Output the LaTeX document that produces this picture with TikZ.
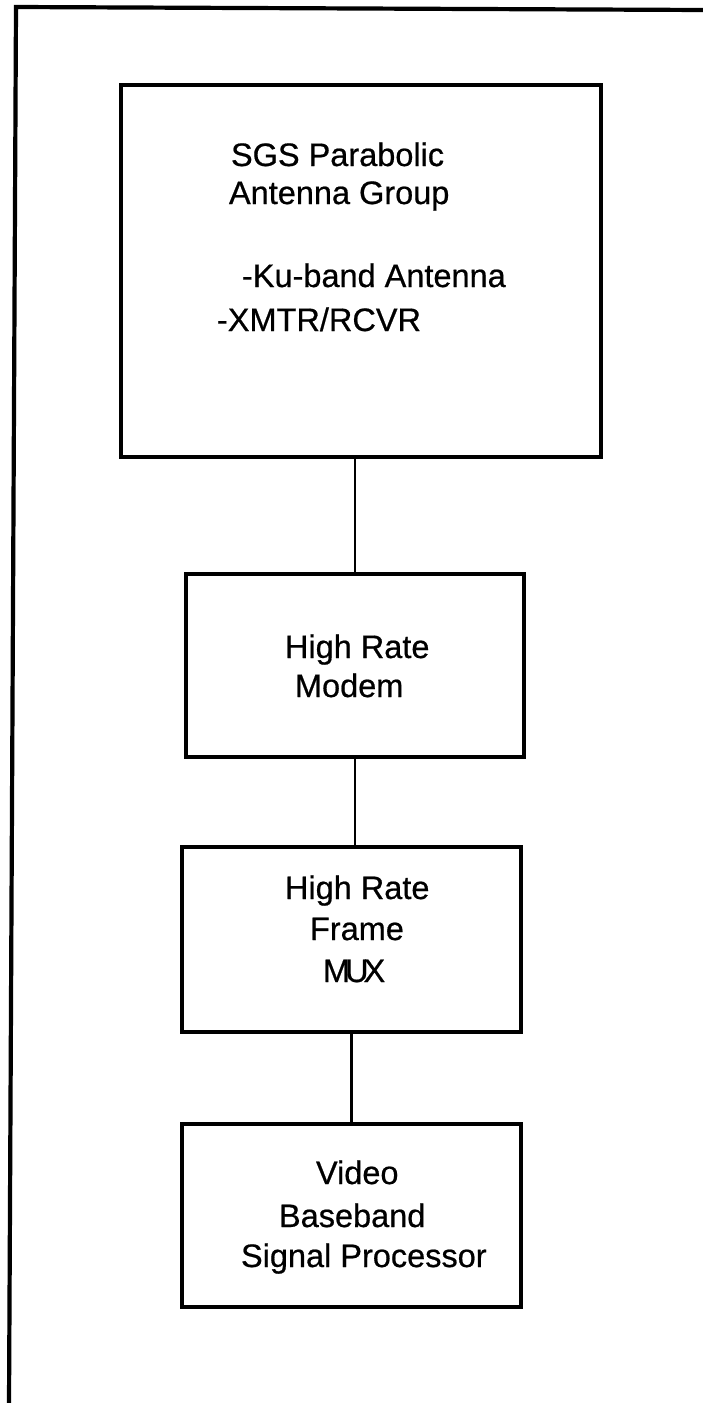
\documentclass[tikz,border=0pt]{standalone}
\usepackage{fontspec}
\setmainfont{Liberation Sans}
\newfontfamily\scanfont[FakeBold=0.6]{Liberation Sans}
\begin{document}
\begin{tikzpicture}[x=1pt,y=-1pt,
  blk/.style={draw=black, line width=3.6pt, rectangle, inner sep=0pt, outer sep=0pt},
  lnk/.style={draw=black, line width=2.3pt},
  frm/.style={draw=black, line width=4.2pt, line join=miter},
  lbl/.style={anchor=base west, inner sep=0pt, outer sep=0pt, font=\scanfont\fontsize{32.5}{39}\selectfont}]
\useasboundingbox (0,0) rectangle (703,1403);
% outer frame (only top and left edges visible)
\coordinate (fb) at (9,1405);
\coordinate (fc) at (16,7);
\coordinate (fr) at (705,10);
\draw[frm] (fb) -- (fc) -- (fr);
% boxes
\node[blk, minimum width=480pt, minimum height=372pt] (b1) at (361,271) {};
\node[blk, minimum width=338pt, minimum height=183pt] (b2) at (355,665.5) {};
\node[blk, minimum width=339pt, minimum height=185pt] (b3) at (351.5,939.5) {};
\node[blk, minimum width=339pt, minimum height=183pt] (b4) at (351.5,1215.5) {};
% connectors
\draw[lnk] (b1.south -| b2.north) -- (b2.north);
\draw[lnk] (b2.south) -- (b2.south |- b3.north);
\draw[lnk] (b3.south) -- (b4.north);
% texts
\node[lbl] (t1a) at (231,166) {SGS Parabolic};
\node[lbl] (t1b) at (229,204) {Antenna Group};
\node[lbl] (t1c) at (242,287) {-Ku-band Antenna};
\node[lbl] (t1d) at (217,331) {-XMTR/RCVR};
\node[lbl] (t2a) at (285,658) {High Rate};
\node[lbl] (t2b) at (295,697) {Modem};
\node[lbl] (t3a) at (285,899) {High Rate};
\node[lbl] (t3b) at (310,940) {Frame};
\node[lbl] (t3c) at (323,982) {M\kern-5pt U\kern-5pt X};
\node[lbl] (t4a) at (316,1184) {Video};
\node[lbl] (t4b) at (279,1227) {Baseband};
\node[lbl] (t4c) at (241,1267) {Signal Processor};
\end{tikzpicture}
\end{document}
